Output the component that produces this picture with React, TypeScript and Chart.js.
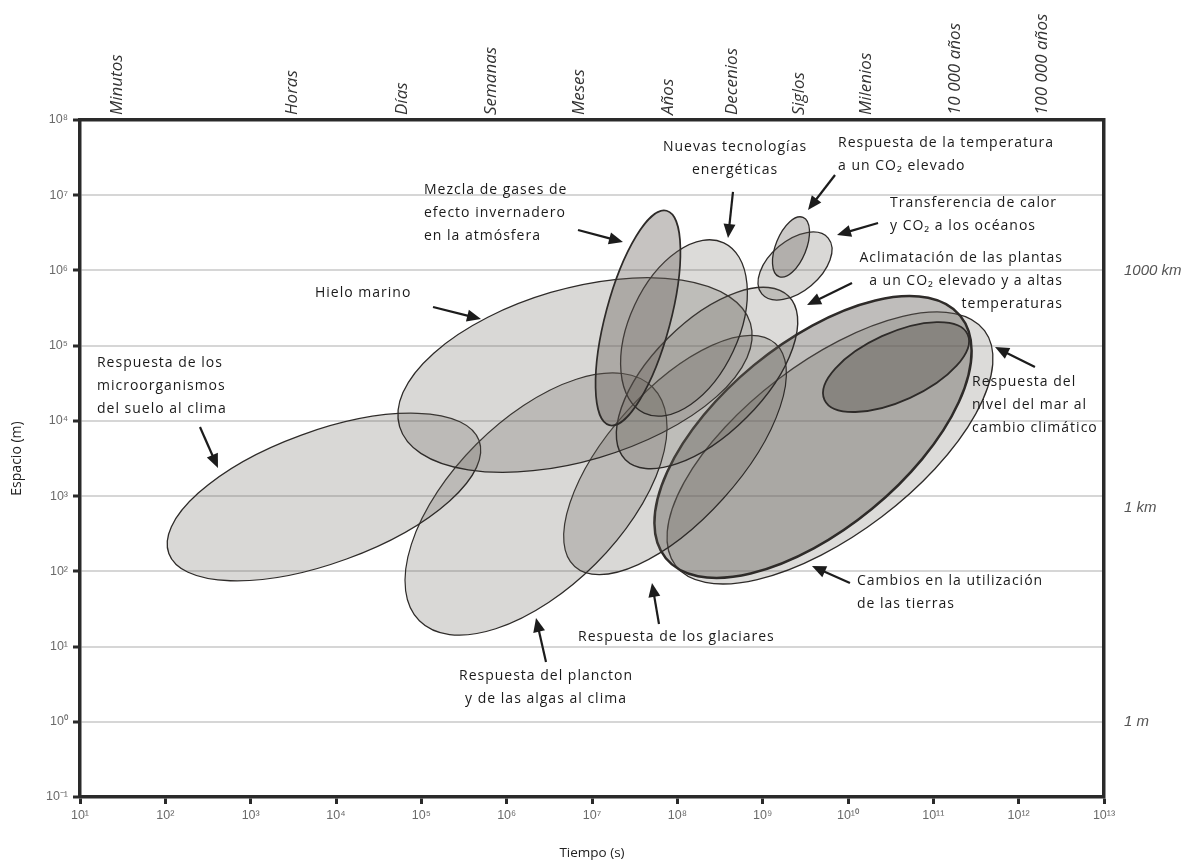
import React, { useEffect, useRef } from "react";
import { Chart, registerables } from "chart.js";

Chart.register(...registerables);

// ---------- axes ----------
const xTickExponents = [1, 2, 3, 4, 5, 6, 7, 8, 9, 10, 11, 12, 13];
const yTickExponents = [-1, 0, 1, 2, 3, 4, 5, 6, 7, 8];
const topTickLabels = ["Minutos", "Horas", "Días", "Semanas", "Meses", "Años", "Decenios", "Siglos", "Milenios", "10 000 años", "100 000 años"];
const topTickLogTime = [1.669, 3.731, 5.02, 6.063, 7.094, 8.126, 8.887, 9.661, 10.446, 11.489, 12.52];
const rightTickLabels = ["1 m", "1 km", "1000 km"];
const rightTickLogSpace = [0, 2.85, 6];

// ---------- ellipses (log10 of time in s, log10 of space in m) ----------
const ellipseNames = [
  "Cambios en la utilización de las tierras (exterior)",
  "Cambios en la utilización de las tierras",
  "Respuesta del nivel del mar",
  "Respuesta de los glaciares",
  "Respuesta del plancton",
  "Respuesta de los microorganismos",
  "Hielo marino",
  "Aclimatación de las plantas",
  "Nuevas tecnologías energéticas",
  "Mezcla de gases de efecto invernadero",
  "Transferencia de calor y CO2",
  "Respuesta de la temperatura",
];
const centerLogT = [9.789, 9.59, 10.563, 7.973, 6.344, 3.859, 6.801, 8.348, 8.078, 7.539, 9.379, 9.332];
const centerLogS = [3.64, 3.786, 4.716, 3.547, 2.895, 2.988, 4.61, 4.57, 5.235, 5.368, 6.059, 6.312];
const majorLogT = [11.6, 11.315, 11.402, 9.149, 7.711, 5.677, 8.857, 9.305, 8.544, 7.875, 9.768, 9.473];
const majorLogS = [5.2, 5.398, 5.151, 5.029, 4.447, 3.738, 5.296, 5.656, 6.367, 6.793, 6.43, 6.706];
const minorLogT = [10.396, 10.282, 10.728, 8.539, 7.043, 4.124, 7.086, 8.811, 8.656, 7.906, 9.57, 9.497];
const minorLogS = [2.726, 2.831, 4.306, 2.968, 2.101, 2.164, 3.513, 4.045, 4.929, 5.256, 5.801, 6.236];

const ellipseFillAlpha = [0.22, 0.4, 0.45, 0.24, 0.24, 0.24, 0.24, 0.22, 0.22, 0.36, 0.24, 0.32];
const ellipseLineWidth = [1.3, 2.5, 1.8, 1.2, 1.2, 1.3, 1.3, 1.4, 1.3, 1.7, 1.3, 1.3];

// ---------- annotations ----------
const labelLines = [
  ["Respuesta de los", "microorganismos", "del suelo al clima"],
  ["Hielo marino"],
  ["Mezcla de gases de", "efecto invernadero", "en la atmósfera"],
  ["Nuevas tecnologías", "energéticas"],
  ["Respuesta de la temperatura", "a un CO₂ elevado"],
  ["Transferencia de calor", "y CO₂ a los océanos"],
  ["Aclimatación de las plantas", "a un CO₂ elevado y a altas", "temperaturas"],
  ["Respuesta del", "nivel del mar al", "cambio climático"],
  ["Cambios en la utilización", "de las tierras"],
  ["Respuesta de los glaciares"],
  ["Respuesta del plancton", "y de las algas al clima"],
];
const labelLogT = [1.199, 3.754, 5.031, 8.676, 9.883, 10.492, 12.52, 11.453, 10.105, 6.836, 6.461];
const labelLogS = [4.77, 5.7, 7.069, 7.641, 7.694, 6.897, 6.165, 4.517, 1.871, 1.127, 0.609];
const labelAlign: CanvasTextAlign[] = ["left", "left", "left", "center", "left", "left", "right", "left", "left", "left", "center"];

const arrowFromLogT = [2.406, 5.137, 6.836, 8.652, 9.848, 10.352, 10.047, 12.191, 10.023, 7.785, 6.461];
const arrowFromLogS = [3.919, 5.514, 6.538, 7.043, 7.269, 6.631, 5.833, 4.716, 1.845, 1.3, 0.795];
const arrowToLogT = [2.617, 5.699, 7.363, 8.594, 9.531, 9.871, 9.52, 11.723, 9.578, 7.703, 6.344];
const arrowToLogS = [3.374, 5.354, 6.378, 6.431, 6.804, 6.471, 5.541, 4.982, 2.071, 1.845, 1.379];

const SUP: Record<string, string> = {
  "0": "⁰", "1": "¹", "2": "²", "3": "³", "4": "⁴", "5": "⁵", "6": "⁶", "7": "⁷", "8": "⁸", "9": "⁹", "-": "⁻",
};
const pow10Label = (v: number) =>
  "10" + String(Math.round(Math.log10(v))).split("").map((c) => SUP[c] || c).join("");

const ellipsePlugin = {
  id: "ellipses",
  beforeDatasetsDraw(chart: any) {
    const { ctx } = chart;
    const xs = chart.scales.x;
    const ys = chart.scales.y;
    const px = (e: number) => xs.getPixelForValue(Math.pow(10, e));
    const py = (e: number) => ys.getPixelForValue(Math.pow(10, e));
    for (let i = 0; i < centerLogT.length; i++) {
      const cx = px(centerLogT[i]);
      const cy = py(centerLogS[i]);
      const ax = px(majorLogT[i]) - cx;
      const ay = py(majorLogS[i]) - cy;
      const bx = px(minorLogT[i]) - cx;
      const by = py(minorLogS[i]) - cy;
      ctx.save();
      ctx.beginPath();
      ctx.save();
      ctx.transform(ax, ay, bx, by, cx, cy);
      ctx.arc(0, 0, 1, 0, Math.PI * 2);
      ctx.restore();
      ctx.fillStyle = `rgba(96,90,84,${ellipseFillAlpha[i]})`;
      ctx.fill();
      ctx.lineWidth = ellipseLineWidth[i];
      ctx.strokeStyle = "#2e2b29";
      ctx.stroke();
      ctx.restore();
    }
  },
  afterDatasetsDraw(chart: any) {
    const { ctx } = chart;
    const xs = chart.scales.x;
    const ys = chart.scales.y;
    const px = (e: number) => xs.getPixelForValue(Math.pow(10, e));
    const py = (e: number) => ys.getPixelForValue(Math.pow(10, e));
    ctx.save();
    // arrows
    ctx.strokeStyle = "#1c1c1c";
    ctx.fillStyle = "#1c1c1c";
    for (let i = 0; i < arrowFromLogT.length; i++) {
      const x0 = px(arrowFromLogT[i]);
      const y0 = py(arrowFromLogS[i]);
      const x1 = px(arrowToLogT[i]);
      const y1 = py(arrowToLogS[i]);
      const ang = Math.atan2(y1 - y0, x1 - x0);
      const head = 14;
      const hw = 6;
      const bxp = x1 - head * Math.cos(ang);
      const byp = y1 - head * Math.sin(ang);
      ctx.lineWidth = 2.2;
      ctx.beginPath();
      ctx.moveTo(x0, y0);
      ctx.lineTo(bxp + 2 * Math.cos(ang), byp + 2 * Math.sin(ang));
      ctx.stroke();
      ctx.beginPath();
      ctx.moveTo(x1, y1);
      ctx.lineTo(bxp - hw * Math.sin(ang), byp + hw * Math.cos(ang));
      ctx.lineTo(bxp + hw * Math.sin(ang), byp - hw * Math.cos(ang));
      ctx.closePath();
      ctx.fill();
    }
    // labels
    ctx.font = "14px 'Open Sans'";
    try {
      (ctx as any).letterSpacing = "1px";
    } catch (e) {
      /* ignore */
    }
    ctx.fillStyle = "#1a1a1a";
    ctx.textBaseline = "middle";
    for (let i = 0; i < labelLines.length; i++) {
      const x = px(labelLogT[i]);
      const y = py(labelLogS[i]);
      ctx.textAlign = labelAlign[i];
      labelLines[i].forEach((line, k) => ctx.fillText(line, x, y + k * 23));
    }
    try {
      (ctx as any).letterSpacing = "0px";
    } catch (e) {
      /* ignore */
    }
    ctx.restore();
  },
};

export default function App() {
  const canvasRef = useRef<HTMLCanvasElement | null>(null);
  useEffect(() => {
    const canvas = canvasRef.current;
    if (!canvas) return;
    const dark = "#2a2a2a";
    const tickFont = { family: "'Liberation Sans', Arial, sans-serif", size: 12.5 };
    const chart = new Chart(canvas, {
      type: "scatter",
      data: { datasets: [] },
      options: {
        animation: false,
        responsive: false,
        maintainAspectRatio: false,
        layout: { padding: 0 },
        plugins: { legend: { display: false }, tooltip: { enabled: false } },
        scales: {
          x: {
            type: "logarithmic",
            position: "bottom",
            min: 10,
            max: 1e13,
            afterBuildTicks: (s: any) => {
              s.ticks = xTickExponents.map((e) => ({ value: Math.pow(10, e) }));
            },
            afterFit: (s: any) => {
              s.height = 68;
            },
            ticks: {
              callback: (v: any) => pow10Label(Number(v)),
              font: tickFont,
              color: "#6a6a6a",
              padding: 4,
              autoSkip: false,
              maxRotation: 0,
              minRotation: 0,
            },
            grid: { display: true, drawOnChartArea: false, drawTicks: true, tickLength: 7, tickWidth: 3, tickColor: dark },
            border: { display: true, color: dark, width: 3.5 },
            title: {
              display: true,
              text: "Tiempo (s)",
              font: { family: "'Open Sans'", size: 13.5 },
              color: "#222",
              padding: { top: 0, bottom: 4 },
            },
          },
          x2: {
            type: "logarithmic",
            position: "top",
            min: 10,
            max: 1e13,
            afterBuildTicks: (s: any) => {
              s.ticks = topTickLogTime.map((e) => ({ value: Math.pow(10, e) }));
            },
            afterFit: (s: any) => {
              s.height = 120;
            },
            ticks: {
              callback: (_v: any, i: number) => topTickLabels[i],
              font: { family: "'Open Sans'", size: 17, style: "italic" },
              color: "#333",
              padding: 5,
              autoSkip: false,
              minRotation: 90,
              maxRotation: 90,
            },
            grid: { display: false, drawTicks: false },
            border: { display: true, color: dark, width: 3.5 },
          },
          y: {
            type: "logarithmic",
            position: "left",
            min: 0.1,
            max: 1e8,
            afterBuildTicks: (s: any) => {
              s.ticks = yTickExponents.map((e) => ({ value: Math.pow(10, e) }));
            },
            afterFit: (s: any) => {
              s.width = 80;
            },
            ticks: {
              callback: (v: any) => pow10Label(Number(v)),
              font: tickFont,
              color: "#6a6a6a",
              padding: 5,
              autoSkip: false,
            },
            grid: { display: true, color: "#d6d6d6", lineWidth: 2, drawTicks: true, tickLength: 7, tickWidth: 3, tickColor: dark },
            border: { display: true, color: dark, width: 3.5 },
            title: {
              display: true,
              text: "Espacio (m)",
              font: { family: "'Open Sans'", size: 14 },
              color: "#222",
              padding: { top: 9, bottom: 0 },
            },
          },
          y2: {
            type: "logarithmic",
            position: "right",
            min: 0.1,
            max: 1e8,
            afterBuildTicks: (s: any) => {
              s.ticks = rightTickLogSpace.map((e) => ({ value: Math.pow(10, e) }));
            },
            afterFit: (s: any) => {
              s.width = 100;
            },
            ticks: {
              callback: (_v: any, i: number) => rightTickLabels[i],
              font: { family: "'Liberation Sans', Arial, sans-serif", size: 15, style: "italic" },
              color: "#555",
              padding: 20,
              autoSkip: false,
            },
            grid: { display: false, drawTicks: false },
            border: { display: true, color: dark, width: 3.5 },
          },
        },
      } as any,
      plugins: [ellipsePlugin],
    });
    return () => chart.destroy();
  }, []);

  return (
    <div style={{ position: "absolute", left: 0, top: 0, width: 1204, height: 865, background: "#fff" }}>
      <canvas ref={canvasRef} width={1204} height={865} style={{ display: "block" }} aria-label={ellipseNames.join(", ")} />
    </div>
  );
}
